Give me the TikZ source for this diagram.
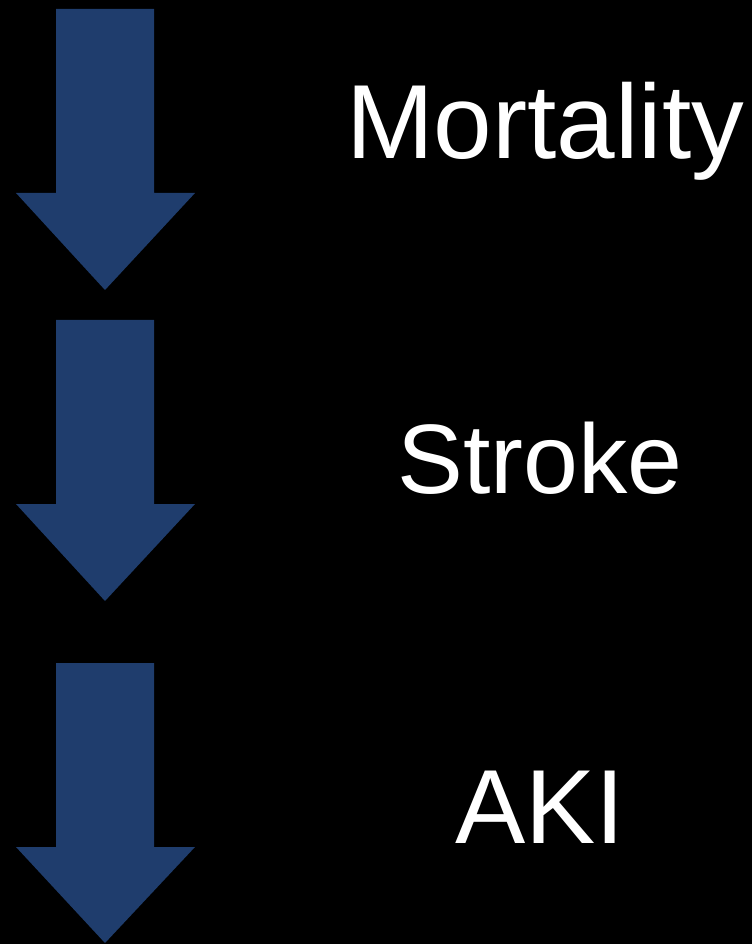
\documentclass[tikz,border=0pt]{standalone}
\usepackage{fontspec}
\setmainfont{Liberation Sans}
\definecolor{arrowblue}{RGB}{31,61,109}
\tikzset{
  outcome/.style={text=white, inner sep=0pt, anchor=base},
  downarrow/.style={fill=arrowblue, draw=none}
}
\begin{document}
\begin{tikzpicture}[x=0.75pt, y=-0.75pt]
    \fill[black] (0,0) rectangle (752,944);
    % arrows: top of shaft, start of head, tip
    \foreach \t/\h/\p in {9/193/290, 320/504/601, 663/847/943}
    \fill[downarrow] (56,\t) -- (154,\t) -- (154,\h) -- (195,\h)
      -- (105,\p) -- (16,\h) -- (56,\h) -- cycle;
    \node[outcome, font=\fontsize{79pt}{90pt}\selectfont] (mortality) at (545,159) {Mortality};
    \node[outcome, font=\fontsize{74pt}{85pt}\selectfont] (stroke) at (540,493) {Stroke};
    \node[outcome, font=\fontsize{79pt}{90pt}\selectfont] (aki) at (540,843) {AKI};
\end{tikzpicture}
\end{document}
